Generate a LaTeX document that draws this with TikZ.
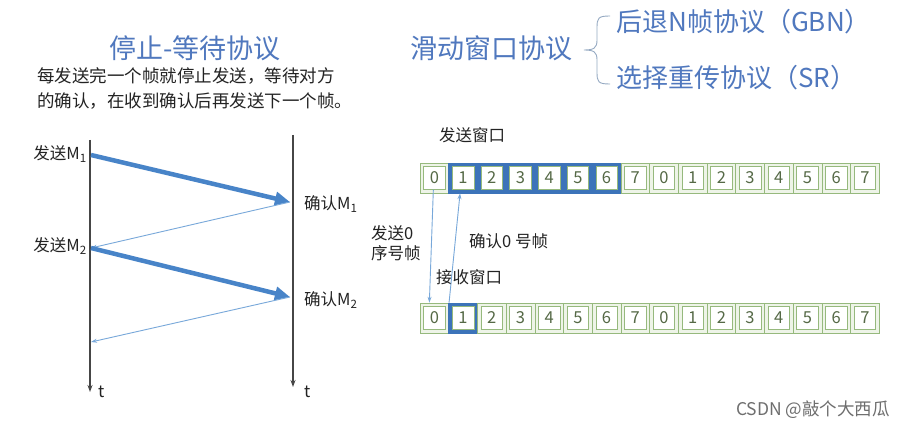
\documentclass[tikz,border=0pt]{standalone}
\usepackage{fontspec}
\setmainfont{Noto Sans CJK SC}
\usetikzlibrary{arrows.meta}
\definecolor{titleblue}{RGB}{80,120,190}
\definecolor{arrowblue}{RGB}{72,132,200}
\definecolor{thinblue}{RGB}{120,168,218}
\definecolor{cellgreen}{RGB}{150,185,125}
\definecolor{cellfill}{RGB}{238,244,232}
\definecolor{digitcol}{RGB}{85,105,70}
\definecolor{winblue}{RGB}{60,115,185}
\definecolor{txt}{RGB}{35,35,35}
\definecolor{axis}{RGB}{70,70,70}
\definecolor{bracecol}{RGB}{150,170,195}
\tikzset{
  title/.style={font=\fontsize{27}{30}\selectfont, text=titleblue, inner sep=0pt},
  sub/.style={font=\fontsize{26}{29}\selectfont, text=titleblue, inner sep=0pt, anchor=west},
  desc/.style={font=\fontsize{17.5}{20}\selectfont, text=txt, inner sep=0pt, anchor=west},
  lab/.style={font=\fontsize{16.5}{19.5}\selectfont, text=txt, inner sep=0pt},
  cellout/.style={draw=cellgreen, fill=cellfill, line width=0.6pt, minimum width=28.7pt, minimum height=30pt, inner sep=0pt},
  winout/.style={draw=winblue, fill=winblue, line width=0.6pt, minimum width=28.7pt, minimum height=30pt, inner sep=0pt},
  cellin/.style={draw=cellgreen, fill=white, line width=0.6pt, minimum width=21.5pt, minimum height=22.5pt, inner sep=0pt, text=digitcol, font=\fontsize{16.5}{18}\selectfont},
  timeaxis/.style={draw=axis, line width=1.2pt, -{Stealth[length=7pt,width=5pt]}},
  thick arrow/.style={draw=arrowblue, line width=4.5pt, -{Triangle[length=15pt,width=13pt]}},
  thin arrow/.style={draw=thinblue, line width=0.9pt, -{Stealth[length=6pt,width=4pt]}},
}
\begin{document}
\begin{tikzpicture}[x=1pt,y=-1pt]
\useasboundingbox (0,0) rectangle (905,430);
\fill[white] (0,0) rectangle (905,430);
% titles
\node[title] (t1) at (195,48) {停止-等待协议};
\node[desc] (d1) at (37,76) {每发送完一个帧就停止发送，等待对方};
\node[desc] (d2) at (37,101) {的确认，在收到确认后再发送下一个帧。};
\node[title] (t2) at (491,48) {滑动窗口协议};
\node[sub] (g1) at (616,22) {后退N帧协议（GBN）};
\node[sub] (g2) at (616,78) {选择重传协议（SR）};
\draw[bracecol, line width=0.9pt] (610,16) .. controls (598,16) and (597,18) .. (597,28) -- (597,40) .. controls (597,48) and (594,50) .. (584,50)
  .. controls (594,50) and (597,52) .. (597,60) -- (597,72) .. controls (597,82) and (598,84) .. (610,84);
% stop-and-wait timelines
\coordinate (LA) at (90,140);
\coordinate (LB) at (90,392);
\coordinate (RA) at (293,135);
\coordinate (RB) at (293,387);
\draw[timeaxis] (LA) -- (LB);
\draw[timeaxis] (RA) -- (RB);
\node[lab, anchor=west] (tl) at (98,392) {t};
\node[lab, anchor=west] (tr) at (304,392) {t};
\coordinate (s1) at (91,155);
\coordinate (r1) at (290,202);
\coordinate (s2) at (91,248);
\coordinate (r2) at (290,297);
\coordinate (e2) at (91,342);
\node[lab, anchor=east] (ls1) at (87,154) {发送M\textsubscript{1}};
\node[lab, anchor=east] (ls2) at (87,246) {发送M\textsubscript{2}};
\node[lab, anchor=west] (lr1) at (304,204) {确认M\textsubscript{1}};
\node[lab, anchor=west] (lr2) at (304,300) {确认M\textsubscript{2}};
\draw[thick arrow] (s1) -- (r1);
\draw[thin arrow] (r1) -- (s2);
\draw[thick arrow] (s2) -- (r2);
\draw[thin arrow] (r2) -- (e2);
% sliding window rows
\foreach \i/\d in {0/0,1/1,2/2,3/3,4/4,5/5,6/6,7/7,8/0,9/1,10/2,11/3,12/4,13/5,14/6,15/7}{
  \pgfmathsetmacro{\cx}{420+28.7*(\i+0.5)}
  \ifnum\i>0 \ifnum\i<7
    \node[winout] (t\i) at (\cx,178) {};
  \else
    \node[cellout] (t\i) at (\cx,178) {};
  \fi\else
    \node[cellout] (t\i) at (\cx,178) {};
  \fi
  \node[cellin] (ti\i) at (t\i) {\d};
  \ifnum\i=1
    \node[winout] (b\i) at (\cx,318) {};
  \else
    \node[cellout] (b\i) at (\cx,318) {};
  \fi
  \node[cellin] (bi\i) at (b\i) {\d};
}
\node[lab, anchor=west] (sw) at (439,135) {发送窗口};
\node[lab, anchor=west] (rw) at (436,277) {接收窗口};
\node[lab, anchor=west, align=left] (l0) at (371,243) {发送0\\序号帧};
\node[lab, anchor=west] (a0) at (469,241) {确认0 号帧};
\draw[thin arrow] ([xshift=-1pt]ti0.south) -- ([xshift=-5pt]b0.north);
\draw[thin arrow] ([xshift=-14pt]b1.north) -- ([xshift=-3pt]t1.south);
\node[font=\fontsize{17.5}{20}\selectfont, text={rgb,255:red,110;green,110;blue,110}, anchor=east, inner sep=0pt] (wm) at (890,410) {CSDN @敲个大西瓜};
\end{tikzpicture}
\end{document}
